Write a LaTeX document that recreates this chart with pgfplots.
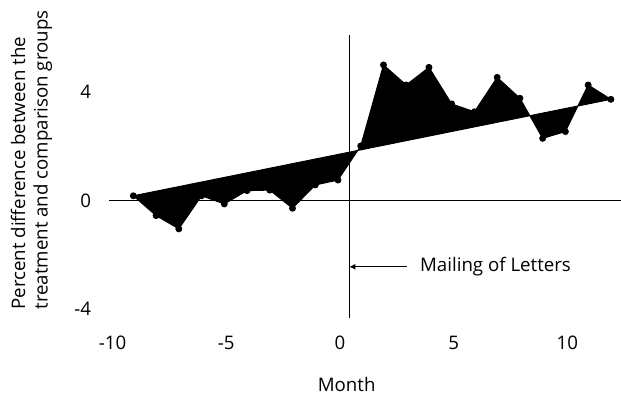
\documentclass[border=0pt]{standalone}
\usepackage{pgfplots}
\pgfplotsset{compat=1.18}
\usepgfplotslibrary{fillbetween}
\usetikzlibrary{arrows.meta}
\usepackage{fontspec}
\setmainfont{Open Sans}
\begin{document}
\begin{tikzpicture}[font=\fontsize{14}{17}\selectfont]
\begin{axis}[
  at={(0,0)}, anchor=south west,
  scale only axis, width=384pt, height=212.25pt,
  xmin=-10.07, xmax=12.445, ymin=-4.329, ymax=6.114,
  axis line style={draw=none},
  major tick length=0pt,
  xtick={-10,-5,0,5,10}, ytick={-4,0,4},
  xticklabel style={yshift=-10pt, xshift=1.5pt},
  yticklabel style={xshift=-10pt},
  /pgf/number format/assume math mode=true,
  clip=false,
]
\addplot[name path=data, black, line width=0.75pt, mark=*, mark size=2.2pt] coordinates {
(-9,0.18) (-8,-0.55) (-7,-1.04) (-6,0.18) (-5,-0.12) (-4,0.37) (-3,0.39)
(-2,-0.28) (-1,0.58) (0,0.76) (1,2.02) (2,5.01) (3,4.27) (4,4.92)
(5,3.57) (6,3.28) (7,4.55) (8,3.78) (9,2.30) (10,2.55) (11,4.27) (12,3.74)
};
\addplot[name path=trend, black, line width=0.75pt] coordinates {(-9,0.18) (12,3.74)};
\addplot[black] fill between[of=data and trend];
\addplot[black, line width=0.75pt] coordinates {(-10.07,0) (12.445,0)};
\addplot[black, line width=0.75pt] coordinates {(0.5,-4.329) (0.5,6.114)};
\draw[black, line width=0.75pt, -{Latex[length=4.5pt,width=4.5pt]}] (axis cs:3.02,-2.44) -- (axis cs:0.5,-2.44);
\node[anchor=west, inner sep=0pt] at (axis cs:3.6,-2.44) {Mailing of Letters};
\node at (axis cs:0.38,-6.80) {Month};
\node[rotate=90, align=left] at (axis cs:-13.48,1.5) {Percent difference between the\\treatment and comparison groups};
\end{axis}
\pgfresetboundingbox
\useasboundingbox (-81.75pt,-57.75pt) rectangle (384pt,238.5pt);
\end{tikzpicture}
\end{document}
